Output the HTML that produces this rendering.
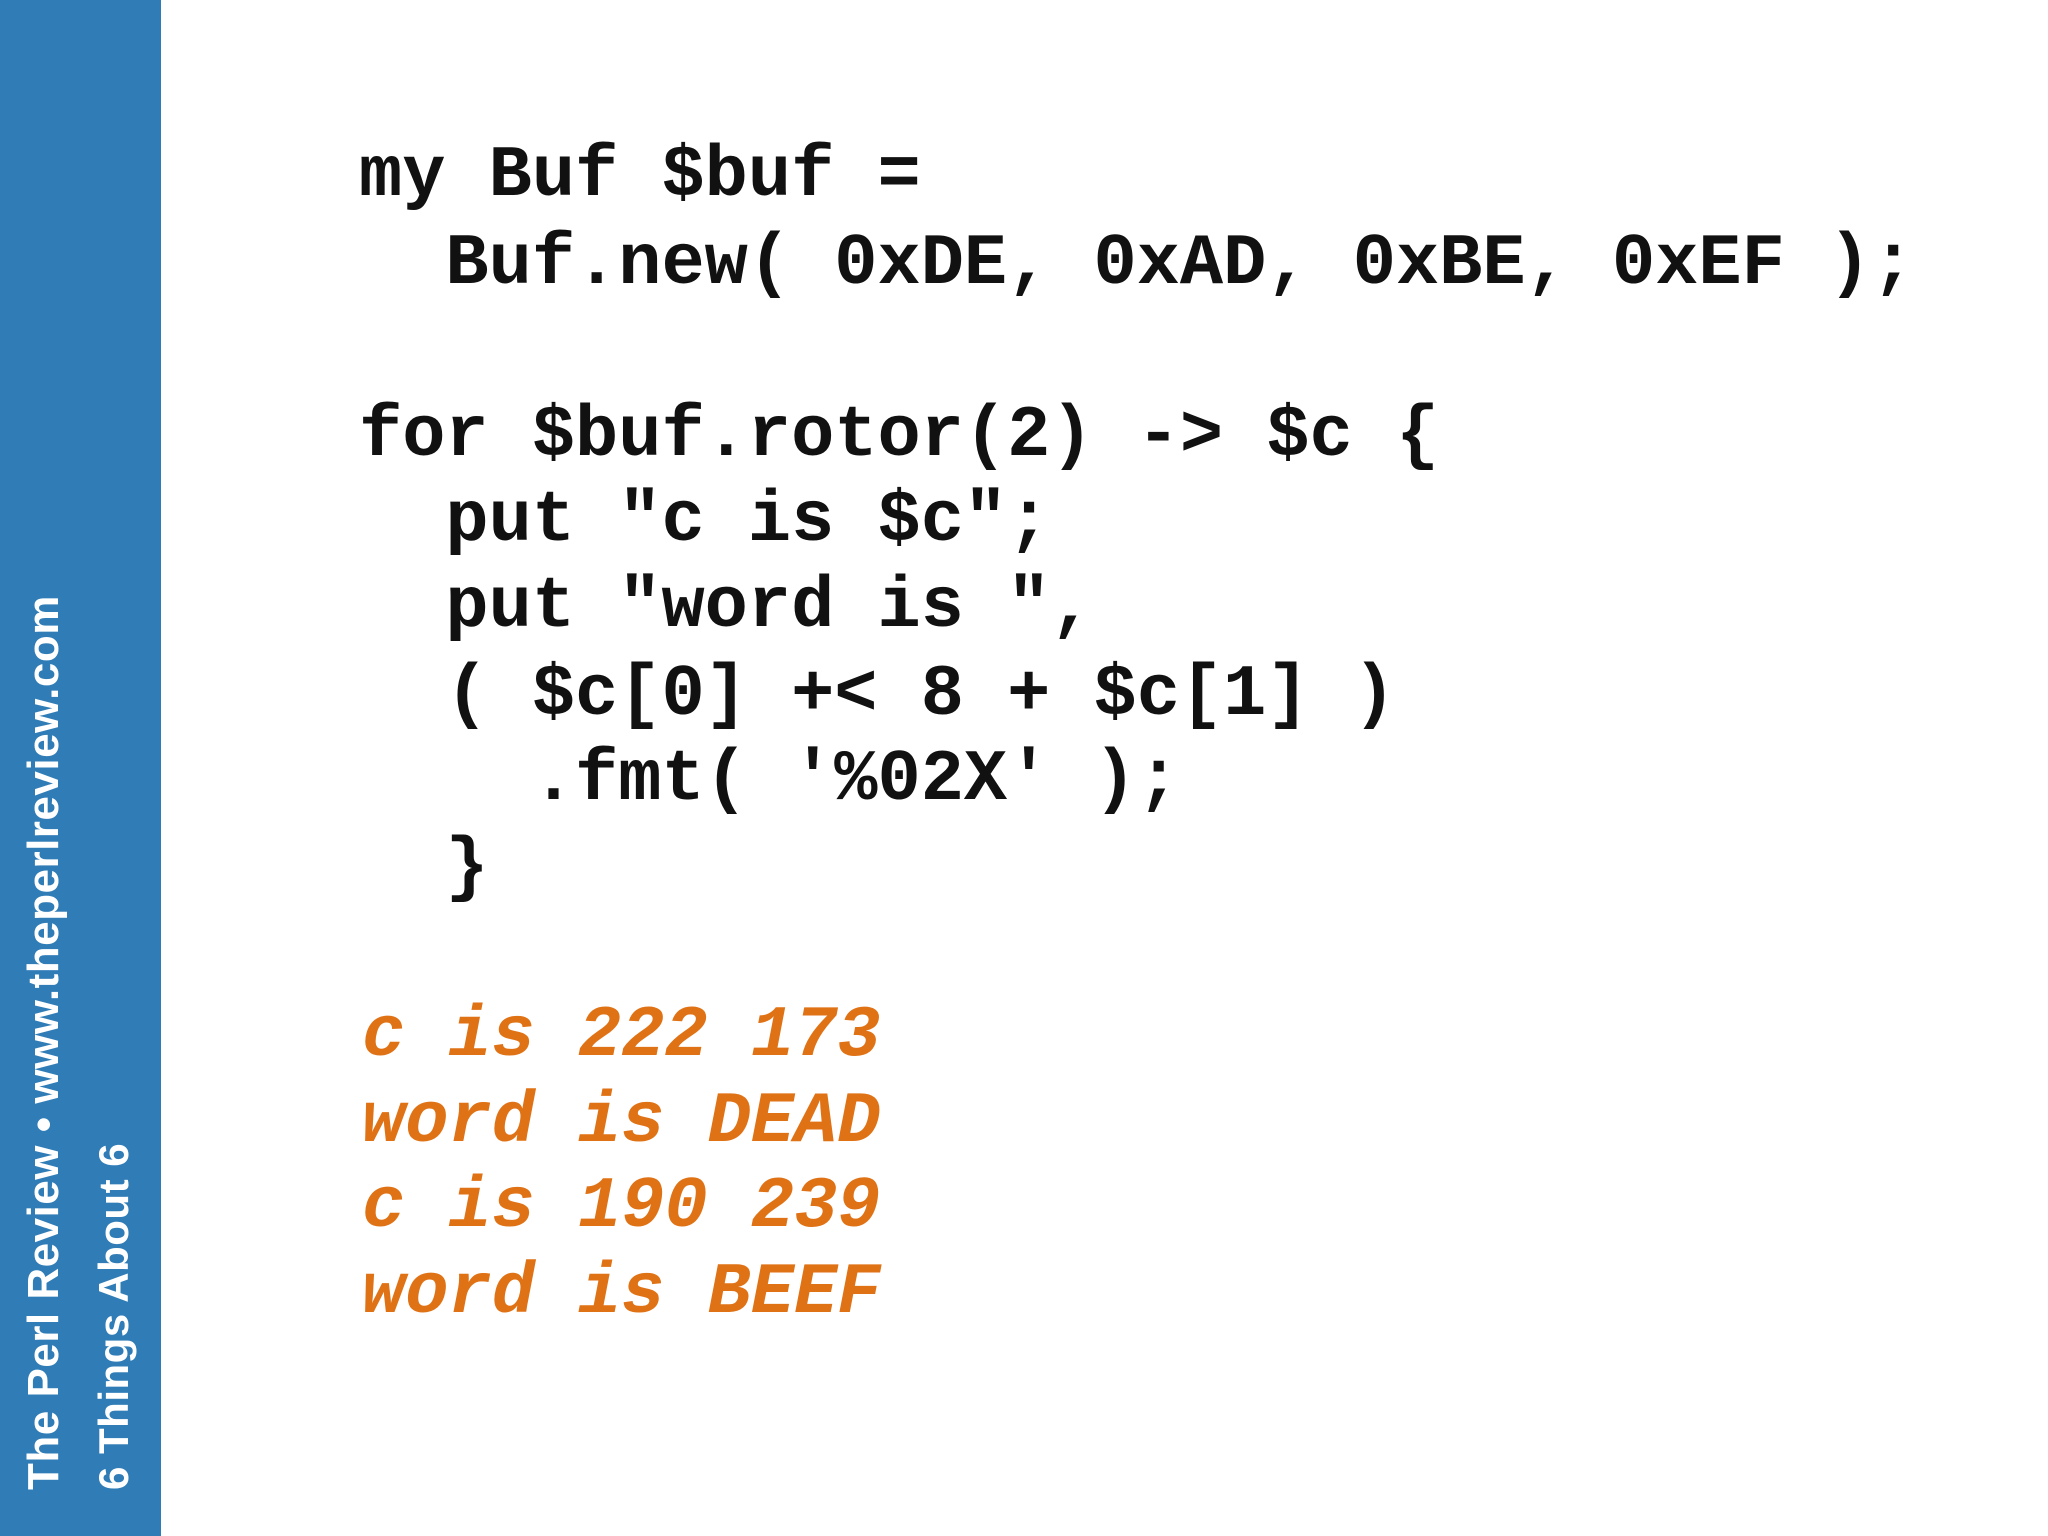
<!DOCTYPE html>
<html><head><meta charset="utf-8"><style>
html,body{margin:0;padding:0;}
body{width:2048px;height:1536px;background:#fff;position:relative;overflow:hidden;}
#side{position:absolute;left:0;top:0;width:161px;height:1536px;background:#2f7cb6;}
.l{position:absolute;white-space:pre;font-family:"Liberation Mono",monospace;font-weight:bold;font-size:72px;line-height:1;color:#111;}
.o{color:#e07216;font-style:italic;}
</style></head><body>
<div id="side"></div>
<svg width="161" height="1536" style="position:absolute;left:0;top:0">
<text transform="translate(58,1490) rotate(-90)" font-family="Liberation Sans, sans-serif" font-weight="bold" font-size="44" letter-spacing="0.5" fill="#fff">The Perl Review  •  www.theperlreview.com</text>
<text transform="translate(128,1490) rotate(-90)" font-family="Liberation Sans, sans-serif" font-weight="bold" font-size="42" letter-spacing="0.5" fill="#fff">6 Things About 6</text>
</svg>
<div class="l" style="left:359px;top:140px">my Buf $buf =</div>
<div class="l" style="left:359px;top:228px">  Buf.new( 0xDE, 0xAD, 0xBE, 0xEF );</div>
<div class="l" style="left:359px;top:400px">for $buf.rotor(2) -&gt; $c {</div>
<div class="l" style="left:359px;top:485px">  put "c is $c";</div>
<div class="l" style="left:359px;top:571px">  put "word is ",</div>
<div class="l" style="left:359px;top:659px">  ( $c[0] +&lt; 8 + $c[1] )</div>
<div class="l" style="left:359px;top:744px">    .fmt( '%02X' );</div>
<div class="l" style="left:359px;top:832px">  }</div>
<div class="l o" style="left:362px;top:1000px">c is 222 173</div>
<div class="l o" style="left:362px;top:1086px">word is DEAD</div>
<div class="l o" style="left:362px;top:1171px">c is 190 239</div>
<div class="l o" style="left:362px;top:1257px">word is BEEF</div>
</body></html>
